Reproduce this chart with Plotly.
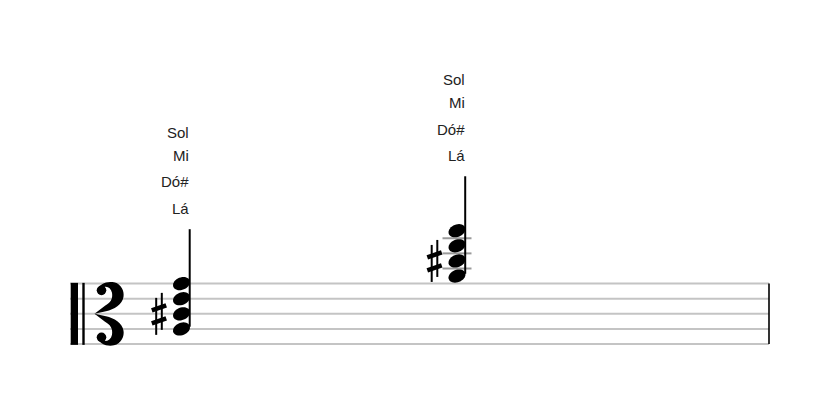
import numpy as np
import plotly.graph_objects as go

# staff positions are counted in half-spaces from the bottom line (alto clef)
staff_steps = [0, 2, 4, 6, 8]
chord_x = [181.5, 457.0]
chord_steps = [[2, 4, 6, 8], [9, 11, 13, 15]]
chord_names = ["Lá", "Dó#", "Mi", "Sol"]
sharp_steps = [4, 11]

STEP_PX = 7.56          # one half-space in pixels
STAFF_BOTTOM_PX = 344.1
W, H = 840, 416
PAGE_PAD = 8            # default body margin of the html page
STAFF_X0, STAFF_X1 = 70, 769
INK = "black"
LINE_GREY = "#c4c4c4"
LABEL_RISE = [10, 13.45, 16.95, 20.0]


def px_to_step(dy):
    # vertical pixel offset (down = positive) -> staff steps
    return -dy / STEP_PX


def path_from(points, x0, s0, close=True):
    parts = []
    for cmd, pts in points:
        coords = " ".join(f"{x0 + dx:.2f},{s0 + px_to_step(dy):.3f}" for dx, dy in pts)
        parts.append(f"{cmd} {coords}")
    return " ".join(parts) + (" Z" if close else "")


def notehead_path(cx, step, rx=8.8, ry=6.2, angle=22):
    a = np.radians(angle)
    t = np.linspace(0, 2 * np.pi, 36, endpoint=False)
    u, v = rx * np.cos(t), ry * np.sin(t)
    dx = u * np.cos(a) + v * np.sin(a)
    dy = -u * np.sin(a) + v * np.cos(a)
    pts = [f"{cx + x:.2f},{step + px_to_step(y):.3f}" for x, y in zip(dx, dy)]
    return "M " + " L ".join(pts) + " Z"


shapes = []

# staff lines
for s in staff_steps:
    shapes.append(dict(type="line", x0=STAFF_X0, x1=STAFF_X1, y0=s, y1=s,
                       line=dict(color=LINE_GREY, width=2)))

# end barline
shapes.append(dict(type="line", x0=STAFF_X1, x1=STAFF_X1, y0=0, y1=8,
                   line=dict(color=INK, width=1.6)))

# alto clef: thick + thin bars, then the two lobes
shapes.append(dict(type="rect", x0=70.7, x1=78.0, y0=-0.1, y1=8.1,
                   line=dict(width=0), fillcolor=INK))
shapes.append(dict(type="rect", x0=82.3, x1=84.7, y0=-0.1, y1=8.1,
                   line=dict(width=0), fillcolor=INK))

upper_lobe = [
    ("M", [(2, -23)]),
    ("C", [(2, -30.5), (12, -33), (18, -31.5)]),
    ("C", [(25.5, -30), (28.5, -22), (27.5, -17)]),
    ("C", [(26.5, -9), (18, -4.5), (10, -2.5)]),
    ("L", [(-1.5, 0)]),
    ("L", [(9, -8)]),
    ("C", [(14.5, -11), (17, -15), (16, -21)]),
    ("C", [(15, -25.5), (12, -27.5), (9, -27)]),
]
lower_lobe = [(cmd, [(dx, -dy) for dx, dy in pts]) for cmd, pts in upper_lobe]
for lobe in (upper_lobe, lower_lobe):
    shapes.append(dict(type="path", path=path_from(lobe, 96, 4),
                       line=dict(width=0), fillcolor=INK))
for sign in (-1, 1):
    cy = 4 + px_to_step(sign * 23.5)
    r = 4.8
    shapes.append(dict(type="circle", x0=101.5 - r, x1=101.5 + r,
                       y0=cy - r / STEP_PX, y1=cy + r / STEP_PX,
                       line=dict(width=0), fillcolor=INK))

annotations = []

for cx, steps, sharp in zip(chord_x, chord_steps, sharp_steps):
    # ledger lines above the staff
    for s in range(10, max(steps) + 1, 2):
        shapes.append(dict(type="line", x0=cx - 14.5, x1=cx + 14.5, y0=s, y1=s,
                           line=dict(color="#9a9a9a", width=2)))
    # noteheads
    for s in steps:
        shapes.append(dict(type="path", path=notehead_path(cx, s),
                           line=dict(width=0), fillcolor=INK))
    # stem
    stem_x = cx + 8.2
    shapes.append(dict(type="line", x0=stem_x, x1=stem_x,
                       y0=min(steps) + 0.3, y1=max(steps) + 7.2,
                       line=dict(color=INK, width=2)))
    # sharp
    sx = cx - 22.5
    for vx, top, bot in ((sx - 2.8, -16, 21), (sx + 2.8, -21, 16)):
        shapes.append(dict(type="line", x0=vx, x1=vx,
                           y0=sharp + px_to_step(bot), y1=sharp + px_to_step(top),
                           line=dict(color=INK, width=2)))
    for by in (-6, 7):
        shapes.append(dict(type="line", x0=sx - 7.2, x1=sx + 7.2,
                           y0=sharp + px_to_step(by + 2.5), y1=sharp + px_to_step(by - 2.5),
                           line=dict(color=INK, width=4.5)))
    # note names stacked above the chord
    for name, rise in zip(chord_names, LABEL_RISE):
        annotations.append(dict(x=stem_x + 1.5, y=max(steps) + rise,
                                text=name, showarrow=False,
                                xanchor="right", yanchor="middle",
                                font=dict(family="Liberation Sans, Arial, sans-serif",
                                          size=15, color="#222")))

fig = go.Figure()
fig.add_trace(go.Scatter(x=[STAFF_X0, STAFF_X1], y=[0, 8], mode="markers",
                         marker=dict(opacity=0), hoverinfo="skip", showlegend=False))

# axes in page pixels (x) and staff steps (y), compensating for the page margin
y_high = (STAFF_BOTTOM_PX - PAGE_PAD) / STEP_PX
y_low = y_high - H / STEP_PX
fig.update_layout(
    width=W, height=H,
    margin=dict(l=0, r=0, t=0, b=0),
    paper_bgcolor="white", plot_bgcolor="white",
    xaxis=dict(range=[PAGE_PAD, W + PAGE_PAD], visible=False, fixedrange=True),
    yaxis=dict(range=[y_low, y_high], visible=False, fixedrange=True),
    shapes=shapes,
    annotations=annotations,
    showlegend=False,
)

fig.write_html("out.html")
